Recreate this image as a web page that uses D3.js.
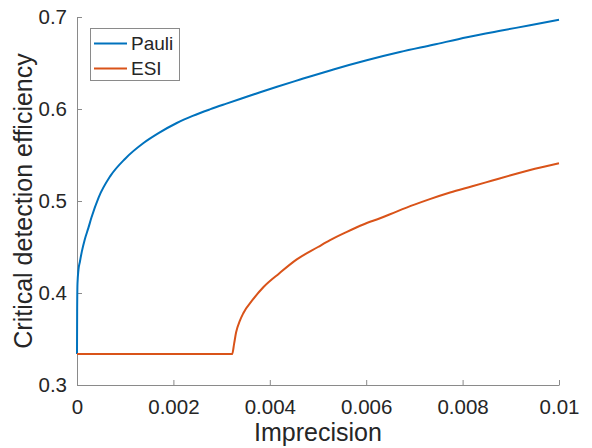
<!DOCTYPE html>
<html>
<head>
<meta charset="utf-8">
<script src="https://cdn.jsdelivr.net/npm/d3@7"></script>
<style>
  html, body { margin: 0; padding: 0; background: #fff; }
  svg { display: block; }
  text { font-family: "Liberation Sans", Arial, Helvetica, sans-serif; fill: #262626; }
</style>
</head>
<body>
<svg id="chart" width="592" height="448"></svg>
<script>
// Imprecision values in units of 1e-3
const pauliX = [0, 0.003, 0.01, 0.03, 0.06, 0.1, 0.16, 0.235, 0.3, 0.45, 0.69, 1.0, 1.38, 1.7, 2.07, 2.4, 2.77, 3.1, 3.46, 3.8, 4.15, 4.63, 5.32, 6.01, 6.7, 7.39, 8.09, 8.78, 9.4, 10];
const pauliY = [0.3337, 0.38, 0.41, 0.425, 0.434, 0.445, 0.458, 0.4705, 0.482, 0.504, 0.527, 0.546, 0.563, 0.574, 0.5848, 0.5925, 0.5998, 0.6058, 0.6122, 0.6182, 0.6242, 0.632, 0.643, 0.653, 0.6619, 0.6698, 0.678, 0.685, 0.691, 0.697];

const esiX = [0, 1.0, 2.0, 3.22, 3.26, 3.30, 3.38, 3.45, 3.65, 3.87, 4.2, 4.56, 5.0, 5.25, 5.6, 5.94, 6.3, 6.63, 7.0, 7.32, 7.74, 8.2, 8.6, 9.0, 9.5, 10];
const esiY = [0.3337, 0.3337, 0.3337, 0.3337, 0.345, 0.357, 0.370, 0.378, 0.393, 0.4065, 0.4215, 0.4365, 0.45, 0.4575, 0.4665, 0.4745, 0.4815, 0.4885, 0.496, 0.502, 0.5092, 0.516, 0.522, 0.528, 0.535, 0.541];

const xTicks = [0, 0.002, 0.004, 0.006, 0.008, 0.01];
const xTickLabels = ["0", "0.002", "0.004", "0.006", "0.008", "0.01"];
const yTicks = [0.3, 0.4, 0.5, 0.6, 0.7];
const yTickLabels = ["0.3", "0.4", "0.5", "0.6", "0.7"];
const seriesNames = ["Pauli", "ESI"];
const seriesColors = ["#0072BD", "#D95319"];

const svg = d3.select("#chart");
const L = 77, R = 559, T = 17, B = 385;
const x = d3.scaleLinear().domain([0, 0.01]).range([L, R]);
const y = d3.scaleLinear().domain([0.3, 0.7]).range([B, T]);

const axisColor = "#8a8a8a";

// X axis
const xAxis = d3.axisBottom(x).tickValues(xTicks)
  .tickFormat((d, i) => xTickLabels[i]).tickSizeInner(-5).tickSizeOuter(0).tickPadding(14);
const gx = svg.append("g").attr("transform", `translate(0,${B})`).call(xAxis);
gx.select(".domain").attr("stroke", axisColor).attr("stroke-width", 1);
gx.selectAll(".tick line").attr("stroke", axisColor);
gx.selectAll(".tick text").style("font-size", "20.5px").attr("fill", "#262626");

// Y axis
const yAxis = d3.axisLeft(y).tickValues(yTicks)
  .tickFormat((d, i) => yTickLabels[i]).tickSizeInner(-5).tickSizeOuter(0).tickPadding(10);
const gy = svg.append("g").attr("transform", `translate(${L},0)`).call(yAxis);
gy.select(".domain").attr("stroke", axisColor).attr("stroke-width", 1);
gy.selectAll(".tick line").attr("stroke", axisColor);
gy.selectAll(".tick text").style("font-size", "20.5px").attr("fill", "#262626");

// Lines
const series = [
  { xs: pauliX, ys: pauliY },
  { xs: esiX, ys: esiY }
];
const line = d3.line().curve(d3.curveMonotoneX).x(d => x(d[0] / 1000)).y(d => y(d[1]));
series.forEach((s, i) => {
  const pts = s.xs.map((v, j) => [v, s.ys[j]]);
  svg.append("path").datum(pts).attr("d", line)
    .attr("fill", "none").attr("stroke", seriesColors[i])
    .attr("stroke-width", 2).attr("stroke-linejoin", "round");
});

// Axis labels
svg.append("text").attr("x", (L + R) / 2).attr("y", 441)
  .attr("text-anchor", "middle").style("font-size", "25px").text("Imprecision");
svg.append("text").attr("transform", `translate(32,${(T + B) / 2}) rotate(-90)`)
  .attr("text-anchor", "middle").style("font-size", "25px").text("Critical detection efficiency");

// Legend
const lg = svg.append("g");
lg.append("rect").attr("x", 90.5).attr("y", 28.5).attr("width", 89).attr("height", 52)
  .attr("fill", "#fff").attr("stroke", axisColor).attr("stroke-width", 1);
seriesNames.forEach((n, i) => {
  const cy = 43.5 + i * 25;
  lg.append("line").attr("x1", 94).attr("x2", 127).attr("y1", cy).attr("y2", cy)
    .attr("stroke", seriesColors[i]).attr("stroke-width", 2);
  lg.append("text").attr("x", 131).attr("y", cy).attr("dy", "0.35em")
    .style("font-size", "19px").text(n);
});
</script>
</body>
</html>
